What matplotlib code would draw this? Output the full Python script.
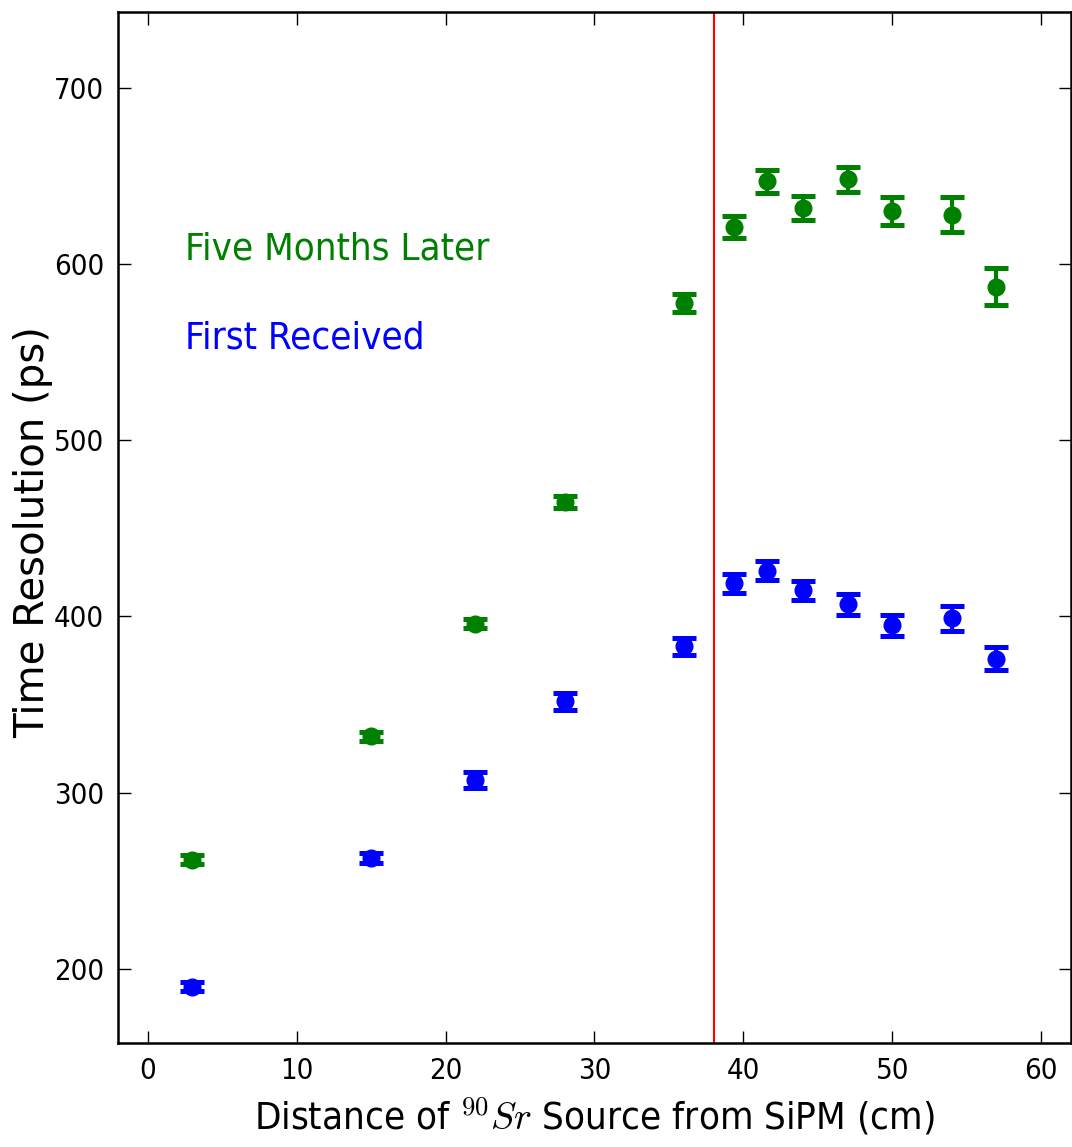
import matplotlib
matplotlib.use("Agg")
import matplotlib.pyplot as plt
from matplotlib import font_manager
from matplotlib.font_manager import FontProperties

# Data
dist = [3, 15, 22, 28, 36, 39.4, 41.6, 44, 47, 50, 54, 57]
later_res = [262, 332, 396, 465, 578, 621, 647, 632, 648, 630, 628, 587]
later_err = [2.5, 2.5, 2.5, 3.5, 5.0, 6.0, 6.5, 6.8, 7.0, 7.8, 10.0, 10.5]
first_res = [190, 263, 307, 352, 383, 419, 426, 415, 407, 395, 399, 376]
first_err = [2.5, 3.0, 4.5, 4.8, 4.8, 5.4, 5.4, 5.4, 6.0, 6.0, 7.0, 6.5]
cut_position = 38
xticks = [0, 10, 20, 30, 40, 50, 60]
yticks = [200, 300, 400, 500, 600, 700]

# Pick a condensed sans face if one is installed
cond_file = font_manager.findfont(FontProperties(family="DejaVu Sans", stretch="condensed"))
have_cond = "Condensed" in cond_file
names = {f.name for f in font_manager.fontManager.ttflist}
if have_cond:
    fam, stretch, scale = "DejaVu Sans", "condensed", 1.0
elif "Liberation Sans Narrow" in names:
    fam, stretch, scale = "Liberation Sans Narrow", "normal", 1.08
else:
    fam, stretch, scale = "Liberation Sans", "normal", 0.9

plt.rcParams["font.family"] = [fam, "DejaVu Sans"]
plt.rcParams["font.stretch"] = stretch
plt.rcParams["mathtext.fontset"] = "cm"

fig = plt.figure(figsize=(10.72, 11.47), dpi=100)
ax = fig.add_axes([0.110, 0.0907, 0.889, 0.8988])

ax.errorbar(dist, later_res, yerr=later_err, fmt="o", color="g", ms=12,
            elinewidth=3, capsize=8.5, capthick=3.6)
ax.errorbar(dist, first_res, yerr=first_err, fmt="o", color="b", ms=12,
            elinewidth=3, capsize=8.5, capthick=3.6)
ax.axvline(cut_position, color="r", lw=1.5)

ax.text(2.5, 608, "Five Months Later", color="g", fontsize=27.5 * scale,
        va="center", ha="left")
ax.text(2.5, 558, "First Received", color="b", fontsize=27.5 * scale,
        va="center", ha="left")

ax.set_xlim(-2, 62)
ax.set_ylim(158, 743)
ax.set_xticks(xticks)
ax.set_yticks(yticks)
ax.tick_params(direction="in", length=9, width=1, top=True, right=True,
               labelsize=21 * scale, pad=10)
for s in ax.spines.values():
    s.set_linewidth(1.8)

ax.set_xlabel(r"Distance of $^{90}Sr$ Source from SiPM (cm)", fontsize=27.5 * scale, labelpad=8)
ax.set_ylabel("Time Resolution (ps)", fontsize=29, family="DejaVu Sans",
              fontstretch="normal")
ax.yaxis.set_label_coords(-0.068, 0.496)

fig.savefig("out.png", dpi=100)
